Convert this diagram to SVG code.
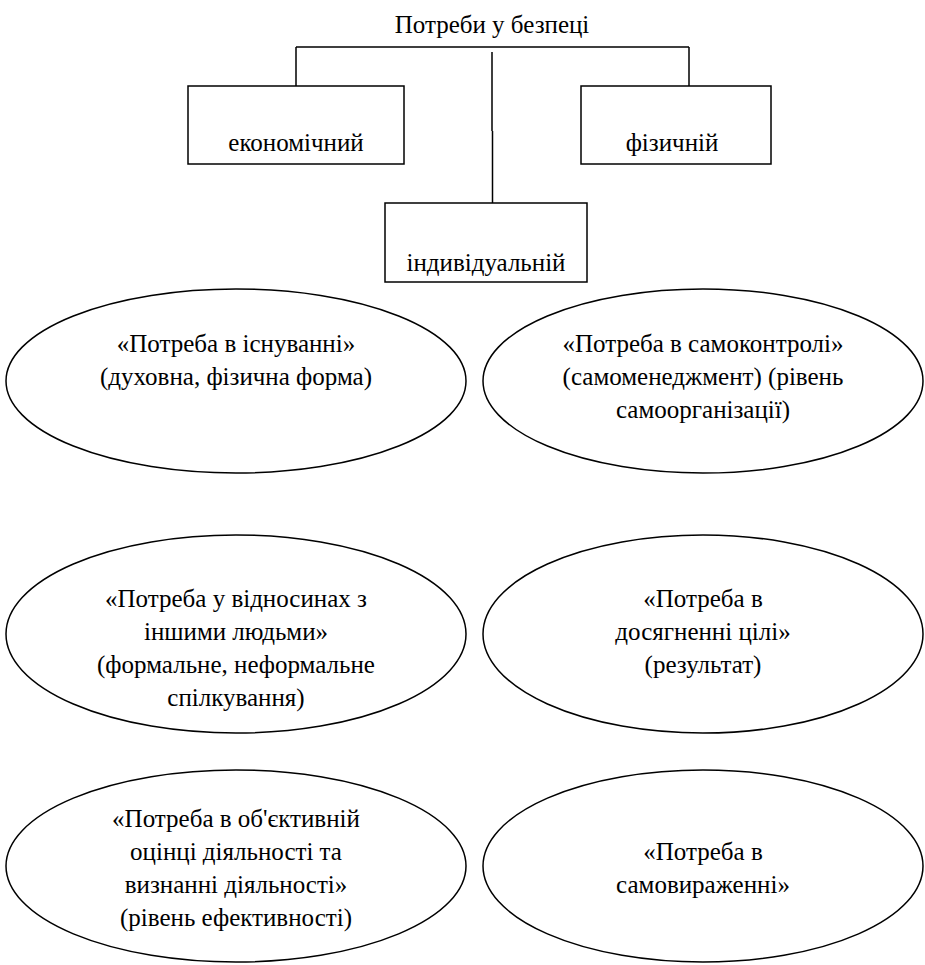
<svg xmlns="http://www.w3.org/2000/svg" width="925" height="965" viewBox="0 0 925 965">
<style>
text{font-size:25px;fill:#000;text-anchor:middle}
.n{fill:#fff;stroke:#000;stroke-width:1.5}
.c{fill:none;stroke:#000;stroke-width:1.5}
</style>
<rect width="925" height="965" fill="#fff"/>
<g id="connectors">
<path class="c" d="M296 47 H689 M296 47 V86 M689 47 V86 M492 52 V131 M492.5 131 V203"/>
</g>
<g font-family="Liberation Serif, Times New Roman, serif">
<g id="root"><text x="492" y="33">Потреби у безпеці</text></g>
<g id="econ"><rect class="n" x="188" y="86" width="216" height="78"/><text x="296" y="151">економічний</text></g>
<g id="phys"><rect class="n" x="581" y="86" width="190" height="78"/><text x="672" y="151">фізичній</text></g>
<g id="indiv"><rect class="n" x="385" y="203" width="202" height="79"/><text x="486" y="271">індивідуальній</text></g>
<g id="e1"><ellipse class="n" cx="236" cy="381" rx="230" ry="92"/><text x="236" y="352">«Потреба в існуванні»</text><text x="236" y="385">(духовна, фізична форма)</text></g>
<g id="e2"><ellipse class="n" cx="703" cy="381" rx="220" ry="92"/><text x="703" y="352">«Потреба в самоконтролі»</text><text x="703" y="385">(самоменеджмент) (рівень</text><text x="703" y="418">самоорганізації)</text></g>
<g id="e3"><ellipse class="n" cx="236" cy="634" rx="230" ry="99"/><text x="236" y="607">«Потреба у відносинах з</text><text x="236" y="640">іншими людьми»</text><text x="236" y="673">(формальне, неформальне</text><text x="236" y="706">спілкування)</text></g>
<g id="e4"><ellipse class="n" cx="703" cy="634" rx="220" ry="99"/><text x="703" y="607">«Потреба в</text><text x="703" y="640">досягненні цілі»</text><text x="703" y="673">(результат)</text></g>
<g id="e5"><ellipse class="n" cx="236" cy="866" rx="230" ry="96"/><text x="236" y="827">«Потреба в об'єктивній</text><text x="236" y="860">оцінці діяльності та</text><text x="236" y="893">визнанні діяльності»</text><text x="236" y="926">(рівень ефективності)</text></g>
<g id="e6"><ellipse class="n" cx="703" cy="866" rx="220" ry="96"/><text x="703" y="860">«Потреба в</text><text x="703" y="893">самовираженні»</text></g>
</g>
</svg>
